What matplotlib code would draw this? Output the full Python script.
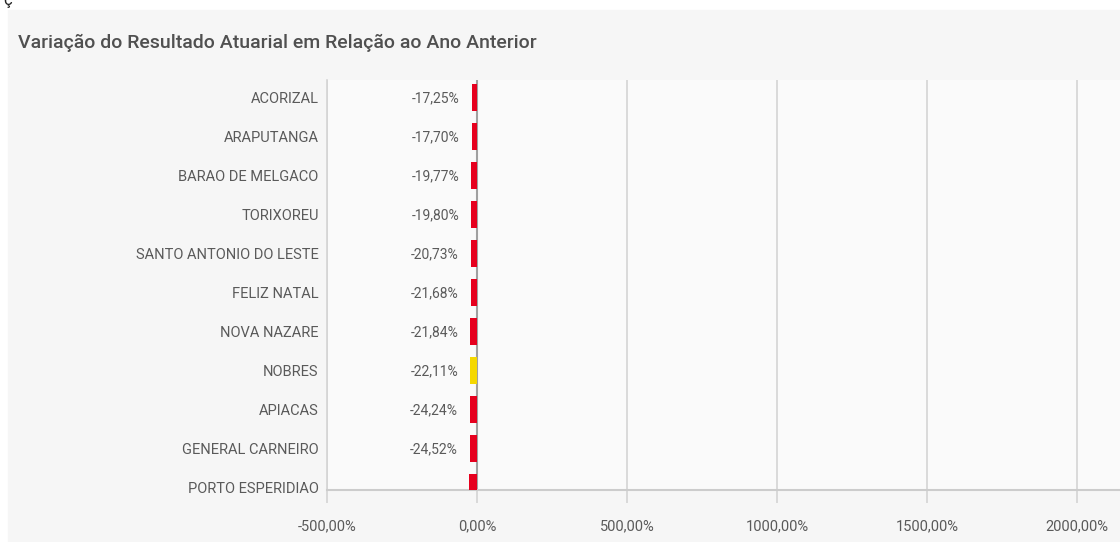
import matplotlib.pyplot as plt
import matplotlib.patches as mpatches

# dados (ordem de cima para baixo)
municipios = ['ACORIZAL', 'ARAPUTANGA', 'BARAO DE MELGACO', 'TORIXOREU',
              'SANTO ANTONIO DO LESTE', 'FELIZ NATAL', 'NOVA NAZARE', 'NOBRES',
              'APIACAS', 'GENERAL CARNEIRO', 'PORTO ESPERIDIAO']
variacao = [-17.25, -17.70, -19.77, -19.80, -20.73, -21.68, -21.84, -22.11,
            -24.24, -24.52, -25.50]
destaque = 'NOBRES'
xticks = [-500, 0, 500, 1000, 1500, 2000]

plt.rcParams['font.family'] = ['Roboto', 'DejaVu Sans']

cor_txt = '#5a5a5a'
fig = plt.figure(figsize=(11.2, 5.42), dpi=100, facecolor='white')
# painel cinza claro
fig.patches.append(mpatches.Rectangle((8 / 1120, 0), 1, 1 - 10 / 542,
                                      transform=fig.transFigure,
                                      color='#f6f6f6', zorder=-5))
fig.text(0.003, 1.0, 'ç', fontsize=12, color='#222222', va='center')
fig.text(18 / 1120, 1 - 48 / 542, 'Variação do Resultado Atuarial em Relação ao Ano Anterior',
         fontsize=14, color='#505050', va='baseline', fontweight='medium')

ax = fig.add_axes([327 / 1120, 1 - 490 / 542, 1 - 327 / 1120, 410 / 542])
ax.set_facecolor('#fafafa')

pos = list(range(len(municipios)))
cores = ['#f5d800' if m == destaque else '#e6001e' for m in municipios]
ax.barh(pos, variacao, height=0.69, color=cores, zorder=3)

# ultimo rotulo fica cortado no original
for i in pos[:-1]:
    ax.annotate(f'{variacao[i]:.2f}%'.replace('.', ','), xy=(variacao[i], i),
                xytext=(-12, -1), textcoords='offset pixels', ha='right',
                va='center', fontsize=10, color=cor_txt)

ax.set_xlim(-500, 2143)
ax.set_ylim(10.064, -0.45)
ax.set_yticks(pos)
ax.set_yticklabels(municipios, fontsize=10.5, color=cor_txt)
ax.tick_params(axis='y', length=0, pad=6)
ax.set_xticks(xticks)
ax.set_xticklabels([f'{v:.2f}%'.replace('.', ',') for v in xticks],
                   fontsize=10.5, color=cor_txt)
ax.tick_params(axis='x', length=9, color='#d4d4d4', width=1.2, pad=12)

ax.grid(axis='x', color='#d4d4d4', linewidth=1.2, zorder=1)
ax.axvline(0, color='#a0a0a0', linewidth=1.5, zorder=2)
for lado in ['top', 'right']:
    ax.spines[lado].set_visible(False)
ax.spines['left'].set_color('#d4d4d4')
ax.spines['left'].set_linewidth(1.2)
ax.spines['bottom'].set_color('#cccccc')
ax.spines['bottom'].set_linewidth(1.5)

fig.savefig('out.png', dpi=100, facecolor=fig.get_facecolor())
